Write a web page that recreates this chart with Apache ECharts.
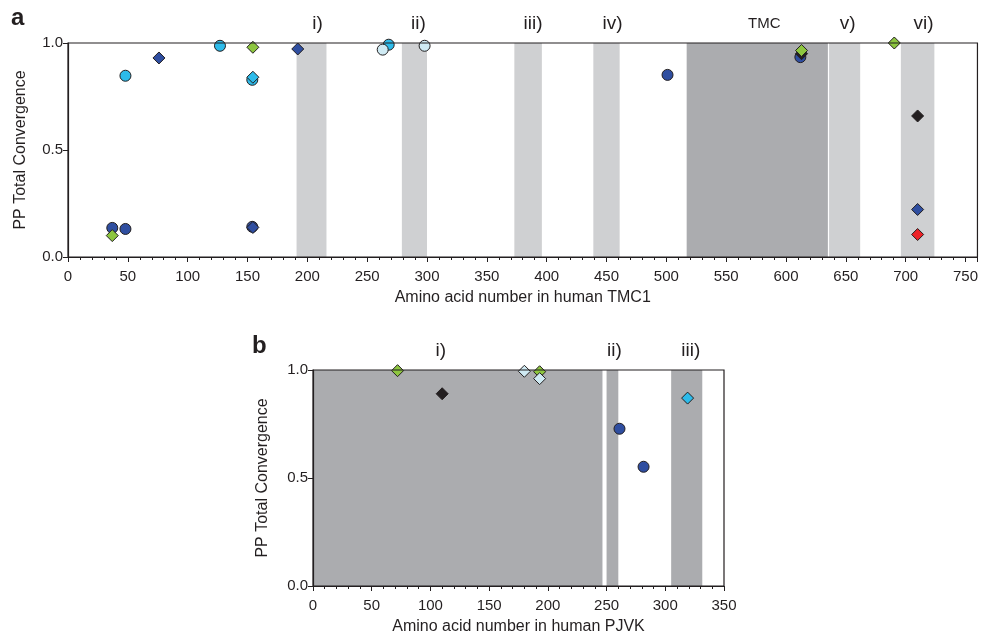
<!DOCTYPE html>
<html>
<head>
<meta charset="utf-8">
<script src="https://cdn.jsdelivr.net/npm/echarts@6/dist/echarts.min.js"></script>
<style>
  html, body { margin: 0; padding: 0; background: #fff; }
  #chart { width: 981px; height: 638px; }
</style>
</head>
<body>
<div id="chart"></div>
<script>
  // panel a - human TMC1
  var tmcBands = [[191, 216], [279, 300], [373, 396], [439, 461], [517, 635], [636, 662], [696, 724]];
  var tmcBandLabels = ['i)', 'ii)', 'iii)', 'iv)', 'TMC', 'v)', 'vi)'];
  var tmcBlueCircle = [[37, 0.136], [48, 0.131], [154, 0.141], [501, 0.851], [612, 0.934]];
  var tmcCyanCircle = [[48, 0.847], [127, 0.987], [154, 0.828], [268, 0.992]];
  var tmcPaleCircle = [[263, 0.969], [298, 0.987]];
  var tmcBlueDiamond = [[76, 0.93], [154.5, 0.138], [192, 0.972], [710, 0.222]];
  var tmcCyanDiamond = [[154.5, 0.84]];
  var tmcBlackDiamond = [[613, 0.95], [710, 0.659]];
  var tmcGreenDiamond = [[37, 0.10], [154.5, 0.98], [613, 0.965], [690.5, 1.0]];
  var tmcRedDiamond = [[710, 0.105]];

  // panel b - human PJVK
  var pjvkBands = [[0, 246.5], [250, 260], [305, 331.5]];
  var pjvkBandLabels = ['i)', 'ii)', 'iii)'];
  var pjvkBlueCircle = [[261, 0.728], [281.5, 0.552]];
  var pjvkBlackDiamond = [[110, 0.89]];
  var pjvkGreenDiamond = [[72, 0.997], [193, 0.992]];
  var pjvkPaleDiamond = [[180, 0.994], [193, 0.96]];
  var pjvkCyanDiamond = [[319, 0.87]];

  var ink = '#231f20';
  var font = 'Liberation Sans, Arial, sans-serif';
  var lightBand = '#cfd0d2';
  var darkBand = '#abacaf';
  var colors = {
    blue: '#2f4ea0',
    cyan: '#2dbbea',
    pale: '#cfeaf3',
    green: '#8dc63f',
    black: '#231f20',
    red: '#ec2227'
  };

  // shaded regions, label sits above the plot
  function bands(list, labels, darkIdx, offsets) {
    return list.map(function(b, i) {
      var dark = darkIdx.indexOf(i) >= 0;
      var small = labels[i] === 'TMC';
      return [
        {
          xAxis: b[0],
          itemStyle: { color: dark ? darkBand : lightBand },
          label: {
            show: true,
            position: 'top',
            distance: small ? 12 : 10,
            offset: [offsets[i] || 0, 0],
            formatter: labels[i],
            color: ink,
            fontFamily: font,
            fontSize: small ? 15 : 19
          }
        },
        { xAxis: b[1] }
      ];
    });
  }

  function scatter(name, data, symbol, color, xi) {
    return {
      name: name,
      type: 'scatter',
      xAxisIndex: xi,
      yAxisIndex: xi,
      data: data,
      symbol: symbol,
      symbolSize: symbol === 'circle' ? 11 : 12,
      itemStyle: { color: color, borderColor: ink, borderWidth: 1, opacity: 1 },
      z: 5
    };
  }

  function xAxis(idx, max, name) {
    return {
      type: 'value',
      gridIndex: idx,
      min: 0,
      max: max,
      interval: 50,
      z: 10,
      name: name,
      nameLocation: 'middle',
      nameGap: 33,
      nameTextStyle: { color: ink, fontFamily: font, fontSize: 16 },
      axisLine: { show: true, lineStyle: { color: ink, width: 1.2 } },
      axisTick: { show: true, inside: false, length: 5, lineStyle: { color: ink } },
      minorTick: { show: true, splitNumber: 5, length: 3, lineStyle: { color: ink } },
      splitLine: { show: false },
      minorSplitLine: { show: false },
      axisLabel: {
        color: ink, fontFamily: font, fontSize: 15, margin: 12,
        formatter: function(v) { return v % 50 === 0 ? String(v) : ''; }
      }
    };
  }

  function yAxis(idx, gap) {
    return {
      type: 'value',
      gridIndex: idx,
      min: 0,
      max: 1,
      interval: 0.5,
      z: 10,
      name: 'PP Total Convergence',
      nameLocation: 'middle',
      nameGap: gap,
      nameTextStyle: { color: ink, fontFamily: font, fontSize: 16 },
      axisLine: { show: true, lineStyle: { color: ink, width: 1.2 } },
      axisTick: { show: true, inside: false, length: 5, lineStyle: { color: ink } },
      splitLine: { show: false },
      axisLabel: {
        color: ink, fontFamily: font, fontSize: 15, margin: 5,
        formatter: function(v) { return v.toFixed(1); }
      }
    };
  }

  var chart = echarts.init(document.getElementById('chart'));
  chart.setOption({
    animation: false,
    backgroundColor: '#fff',
    grid: [
      { left: 68, top: 43, width: 912, height: 214, show: true, borderColor: ink, borderWidth: 1.2, backgroundColor: 'transparent', z: 10 },
      { left: 313, top: 370, width: 411, height: 216, show: true, borderColor: ink, borderWidth: 1.2, backgroundColor: 'transparent', z: 10 }
    ],
    xAxis: [
      xAxis(0, 760, 'Amino acid number in human TMC1'),
      xAxis(1, 350, 'Amino acid number in human PJVK')
    ],
    yAxis: [yAxis(0, 39), yAxis(1, 42)],
    graphic: [
      { type: 'text', left: 11, top: 6, style: { text: 'a', fill: ink, font: 'bold 24px ' + font } },
      { type: 'text', left: 252, top: 334, style: { text: 'b', fill: ink, font: 'bold 24px ' + font } }
    ],
    series: [
      {
        type: 'scatter', xAxisIndex: 0, yAxisIndex: 0, data: [], silent: true,
        markArea: { silent: true, data: bands(tmcBands, tmcBandLabels, [4], [6, 4, 5, 6, 7, 3, 6]) }
      },
      scatter('blue circle', tmcBlueCircle, 'circle', colors.blue, 0),
      scatter('cyan circle', tmcCyanCircle, 'circle', colors.cyan, 0),
      scatter('pale circle', tmcPaleCircle, 'circle', colors.pale, 0),
      scatter('blue diamond', tmcBlueDiamond, 'diamond', colors.blue, 0),
      scatter('cyan diamond', tmcCyanDiamond, 'diamond', colors.cyan, 0),
      scatter('black diamond', tmcBlackDiamond, 'diamond', colors.black, 0),
      scatter('green diamond', tmcGreenDiamond, 'diamond', colors.green, 0),
      scatter('red diamond', tmcRedDiamond, 'diamond', colors.red, 0),

      {
        type: 'scatter', xAxisIndex: 1, yAxisIndex: 1, data: [], silent: true,
        markArea: { silent: true, data: bands(pjvkBands, pjvkBandLabels, [0, 1, 2], [-17, 2, 4]) }
      },
      scatter('blue circle b', pjvkBlueCircle, 'circle', colors.blue, 1),
      scatter('black diamond b', pjvkBlackDiamond, 'diamond', colors.black, 1),
      scatter('green diamond b', pjvkGreenDiamond, 'diamond', colors.green, 1),
      scatter('pale diamond b', pjvkPaleDiamond, 'diamond', colors.pale, 1),
      scatter('cyan diamond b', pjvkCyanDiamond, 'diamond', colors.cyan, 1)
    ]
  });
</script>
</body>
</html>
